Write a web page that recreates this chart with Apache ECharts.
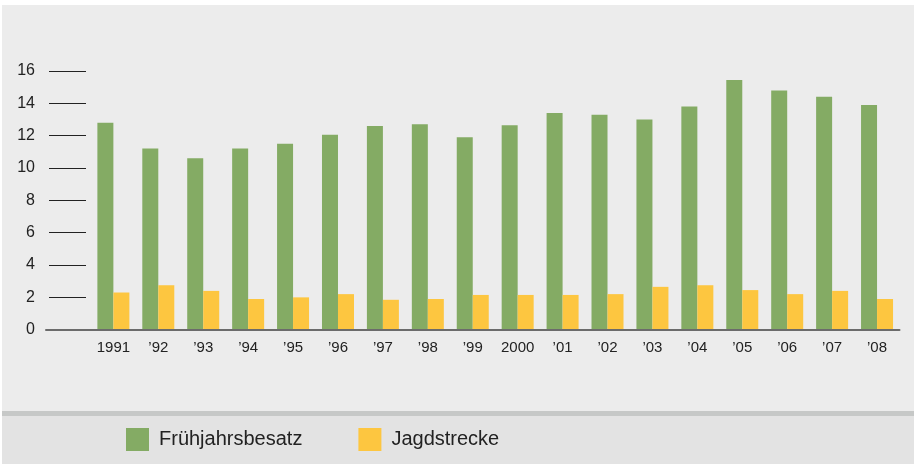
<!DOCTYPE html>
<html>
<head>
<meta charset="utf-8">
<script src="https://cdn.jsdelivr.net/npm/echarts@6/dist/echarts.min.js"></script>
<style>
  html, body { margin: 0; padding: 0; background: #ffffff; }
  #wrap { position: relative; width: 914px; height: 464px; overflow: hidden; }
  .panel { position: absolute; }
  #chart { position: absolute; left: 0; top: 0; width: 914px; height: 464px; }
</style>
</head>
<body>
<div id="wrap">
  <div class="panel" style="left:2px;top:5px;width:912px;height:406px;background:#ececec;"></div>
  <div class="panel" style="left:2px;top:411px;width:912px;height:5px;background:#c6c8c7;"></div>
  <div class="panel" style="left:2px;top:416px;width:912px;height:48px;background:#e3e3e3;"></div>
  <div id="chart"></div>
</div>
<script>
const categories = ['1991', '\u201992', '\u201993', '\u201994', '\u201995', '\u201996', '\u201997', '\u201998', '\u201999', '2000', '\u201901', '\u201902', '\u201903', '\u201904', '\u201905', '\u201906', '\u201907', '\u201908'];
const fruehjahrsbesatz = [12.8, 11.2, 10.6, 11.2, 11.5, 12.05, 12.6, 12.7, 11.9, 12.65, 13.4, 13.3, 13.0, 13.8, 15.45, 14.8, 14.4, 13.9];
const jagdstrecke = [2.3, 2.75, 2.4, 1.9, 2.0, 2.2, 1.85, 1.9, 2.15, 2.15, 2.15, 2.2, 2.65, 2.75, 2.45, 2.2, 2.4, 1.9];
const yTicks = { min: 0, max: 16, interval: 2 };

const chart = echarts.init(document.getElementById('chart'), null, { renderer: 'canvas' });
const fontFamily = '"Liberation Sans", Arial, sans-serif';
chart.setOption({
  backgroundColor: 'transparent',
  animation: false,
  textStyle: { fontFamily: fontFamily },
  grid: { left: 46, right: 14.5, top: 71, bottom: 134.3, containLabel: false },
  legend: {
    top: 428, left: 126, padding: 0,
    itemWidth: 23, itemHeight: 23, itemGap: 56,
    icon: 'rect',
    textStyle: { fontSize: 20, color: '#222222', fontFamily: fontFamily, padding: [0, 0, 0, 5] },
    data: ['Frühjahrsbesatz', 'Jagdstrecke']
  },
  xAxis: {
    type: 'category',
    data: categories,
    min: -1,
    z: 5,
    boundaryGap: true,
    axisLine: { show: true, lineStyle: { color: '#6b6b6b', width: 2 } },
    axisTick: { show: false },
    axisLabel: {
      margin: 11, fontSize: 15, color: '#222222', fontFamily: fontFamily,
      interval: 0,
      formatter: function (v) { return v == null || v === 'undefined' ? '' : v; }
    },
    splitLine: { show: false }
  },
  yAxis: {
    type: 'value',
    min: yTicks.min, max: yTicks.max, interval: yTicks.interval,
    offset: -3,
    z: 1,
    axisLine: { show: false },
    axisTick: { show: true, inside: true, length: 37, lineStyle: { color: '#222222', width: 1 } },
    axisLabel: { margin: 14, fontSize: 16, color: '#222222', fontFamily: fontFamily },
    splitLine: { show: false }
  },
  series: [
    {
      name: 'Frühjahrsbesatz', type: 'bar', data: fruehjahrsbesatz,
      barWidth: 16, barGap: '0%',
      itemStyle: { color: '#84ab64' }
    },
    {
      name: 'Jagdstrecke', type: 'bar', data: jagdstrecke,
      barWidth: 16, barGap: '0%',
      itemStyle: { color: '#fdc640' }
    }
  ]
});
</script>
</body>
</html>
